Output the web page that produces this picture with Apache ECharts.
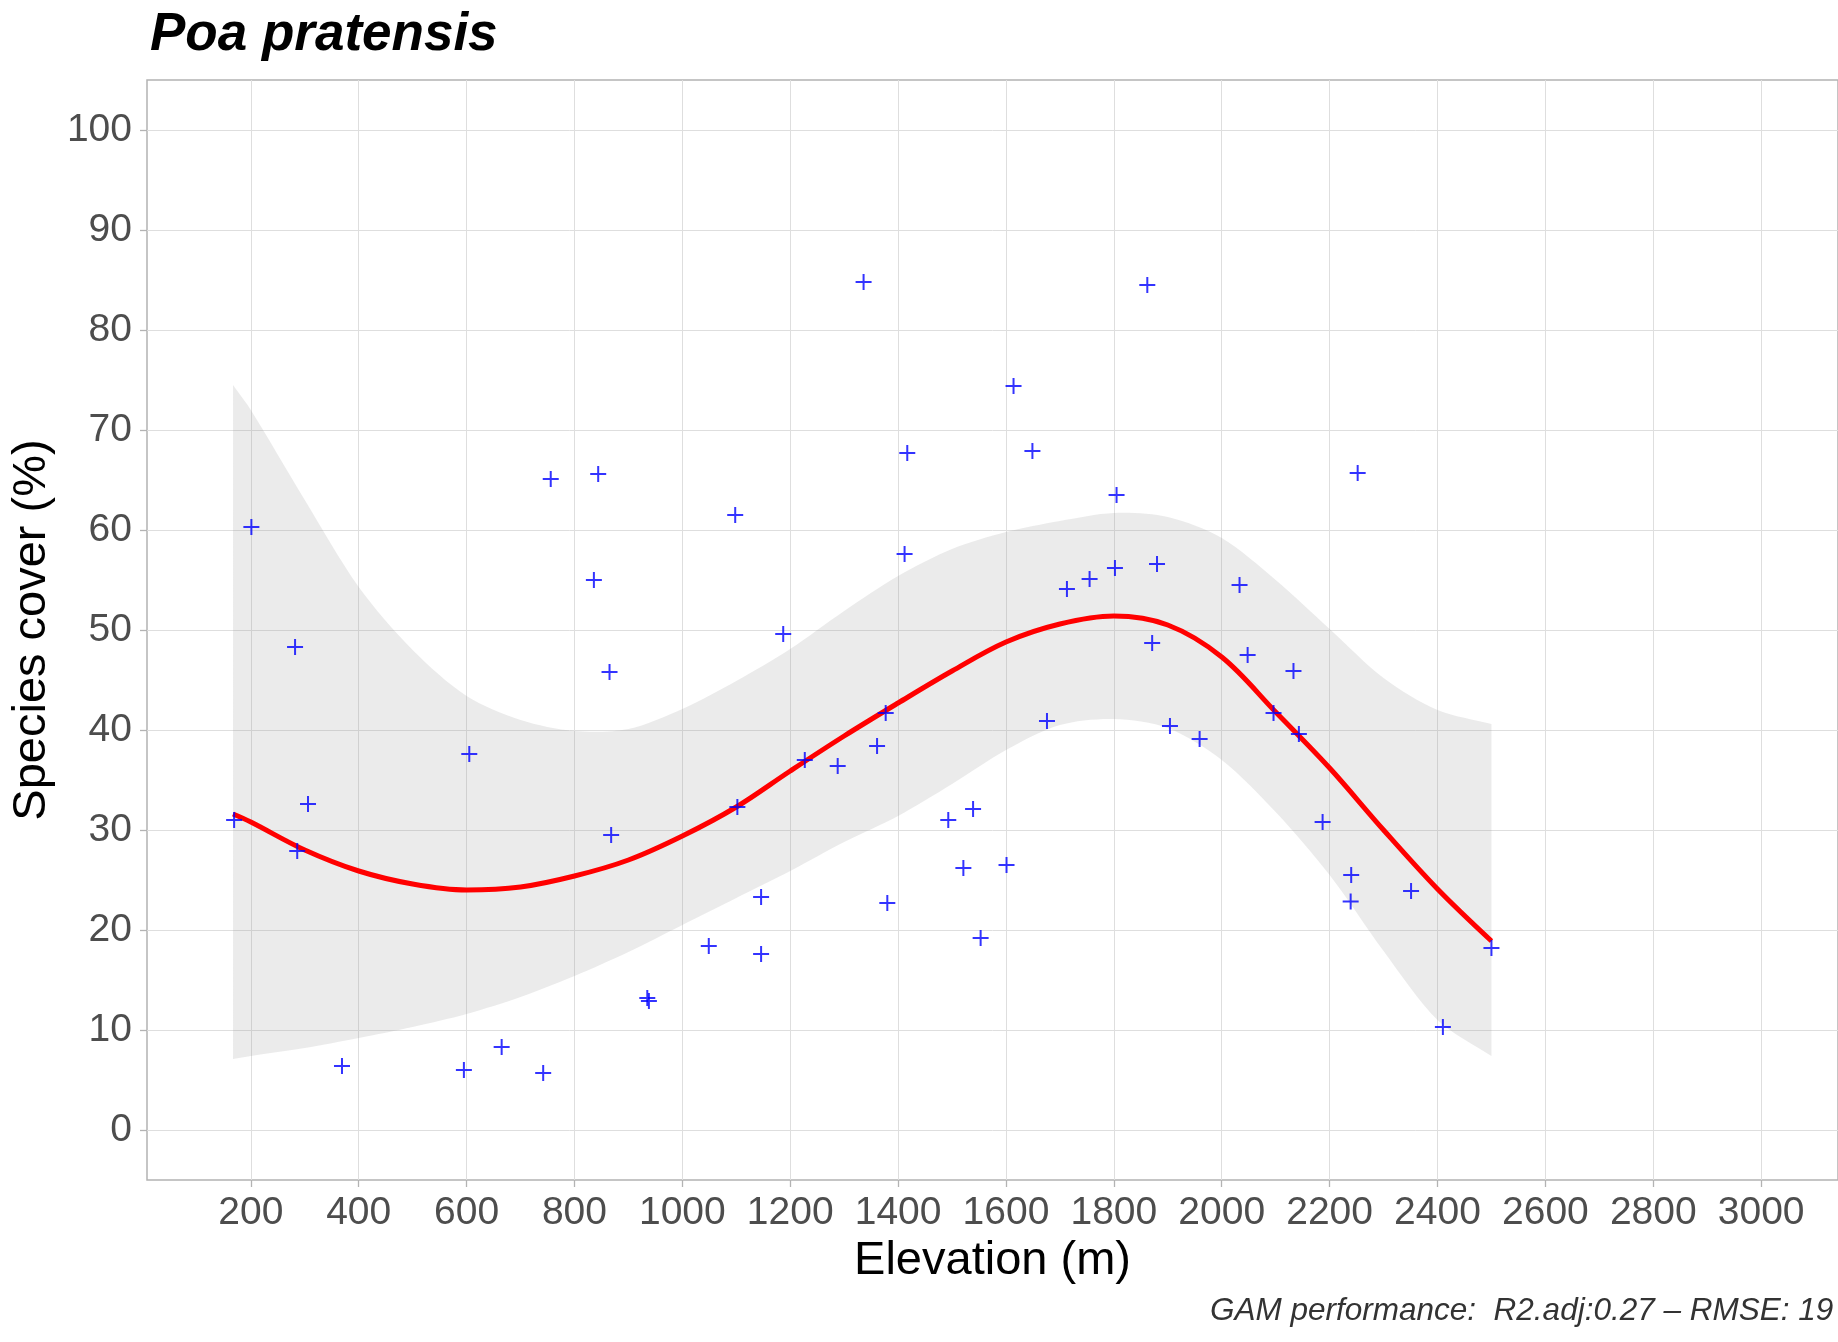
<!DOCTYPE html>
<html>
<head>
<meta charset="utf-8">
<script src="https://cdn.jsdelivr.net/npm/echarts@6/dist/echarts.min.js"></script>
<style>
html,body{margin:0;padding:0;background:#ffffff;}
#chart{width:1838px;height:1342px;}
</style>
</head>
<body>
<div id="chart"></div>
<script>
// ---- data ----
const elevation = [169,201,282,286,306,369,595,605,665,742,756,836,844,865,868,935,938,1049,1098,1102,1146,1146,1187,1227,1288,1336,1361,1377,1380,1412,1417,1493,1521,1539,1553,1601,1614,1649,1676,1713,1755,1802,1805,1862,1871,1880,1904,1959,2033,2048,2096,2133,2143,2187,2240,2239,2252,2351,2410,2500];
const cover = [31.0,60.3,48.3,27.9,32.6,6.4,6.0,37.6,8.3,5.7,65.1,55.0,65.6,45.8,29.5,13.2,12.9,18.4,61.5,32.3,23.3,17.6,49.6,37.0,36.4,84.8,38.4,41.7,22.7,57.6,67.7,31.0,26.2,32.1,19.2,26.5,74.4,67.9,40.9,54.1,55.1,56.2,63.5,84.5,48.7,56.6,40.4,39.1,54.5,47.5,41.7,45.9,39.6,30.8,25.5,22.85,65.7,23.9,10.3,18.2];

const fitX = [167,200,300,400,500,600,700,800,900,1000,1100,1200,1300,1400,1500,1600,1700,1800,1900,2000,2100,2200,2300,2400,2500];
const fitY = [31.6,30.8,28.0,25.9,24.6,24.0,24.3,25.4,27.0,29.4,32.3,35.9,39.4,42.7,45.9,48.8,50.6,51.4,50.5,47.3,41.8,36.2,30.0,24.1,18.9];
const bandUpper = [74.5,72.0,63.0,54.3,48.0,43.4,41.0,39.9,40.1,42.1,44.9,48.1,51.9,55.4,58.1,59.8,60.9,61.7,61.3,59.2,55.0,50.1,45.2,42.0,40.6];
const bandLower = [7.1,7.4,8.2,9.2,10.3,11.6,13.3,15.4,17.8,20.5,23.2,25.9,28.8,31.4,34.6,38.0,40.5,41.1,40.2,37.0,31.8,25.5,17.9,11.0,7.4];

const xTicks = [200,400,600,800,1000,1200,1400,1600,1800,2000,2200,2400,2600,2800,3000];
const yTicks = [0,10,20,30,40,50,60,70,80,90,100];

const titleText = 'Poa pratensis';
const xTitle = 'Elevation (m)';
const yTitle = 'Species cover (%)';
const captionText = 'GAM performance:  R2.adj:0.27 \u2013 RMSE: 19';

// ---- chart ----
const FONT = '"Liberation Sans", Arial, Helvetica, sans-serif';
const chart = echarts.init(document.getElementById('chart'), null, {renderer: 'canvas'});

const points = elevation.map((x, i) => [x, cover[i]]);
const fitData = fitX.map((x, i) => [x, fitY[i]]);
const plusPath = 'path://M7,0H9V7H16V9H9V16H7V9H0V7H7Z';

function renderBand(params, api) {
  const up = [];
  const lo = [];
  for (let i = 0; i < fitX.length; i++) {
    up.push(api.coord([fitX[i], bandUpper[i]]));
    lo.push(api.coord([fitX[i], bandLower[i]]));
  }
  const pts = [];
  // duplicate end points so the vertical ends stay sharp
  pts.push(up[0]);
  for (let i = 0; i < up.length; i++) pts.push(up[i]);
  pts.push(up[up.length - 1]);
  pts.push(lo[lo.length - 1]);
  for (let i = lo.length - 1; i >= 0; i--) pts.push(lo[i]);
  pts.push(lo[0]);
  return {
    type: 'polygon',
    shape: {points: pts, smooth: 0.3},
    style: {fill: 'rgba(153,153,153,0.2)'}
  };
}

const option = {
  animation: false,
  backgroundColor: '#ffffff',
  textStyle: {fontFamily: FONT},
  title: {
    text: titleText,
    left: 150,
    top: 9,
    padding: 0,
    textStyle: {fontSize: 53, fontWeight: 'bold', fontStyle: 'italic', color: '#000000', fontFamily: FONT}
  },
  grid: {
    left: 147,
    top: 80,
    width: 1693,
    height: 1100,
    show: true,
    borderColor: '#b3b3b3',
    borderWidth: 1.5,
    backgroundColor: 'transparent',
    containLabel: false
  },
  xAxis: {
    type: 'value',
    min: 7.5,
    max: 3142.5,
    name: xTitle,
    nameLocation: 'middle',
    nameGap: 55,
    nameTextStyle: {fontSize: 47, color: '#000000', fontFamily: FONT},
    axisLine: {show: false, onZero: false},
    axisTick: {show: true, customValues: xTicks, length: 7, lineStyle: {color: '#b3b3b3', width: 1.3}},
    axisLabel: {customValues: xTicks, fontSize: 39, color: '#4d4d4d', margin: 14, fontFamily: FONT,
                formatter: function (v) { return String(v); }},
    splitLine: {show: true, lineStyle: {color: '#dedede', width: 1}}
  },
  yAxis: {
    type: 'value',
    min: -5,
    max: 105,
    name: yTitle,
    nameLocation: 'middle',
    nameGap: 113,
    nameRotate: 90,
    nameTextStyle: {fontSize: 47, color: '#000000', fontFamily: FONT, align: 'center', verticalAlign: 'middle'},
    axisLine: {show: false, onZero: false},
    axisTick: {show: true, customValues: yTicks, length: 7, lineStyle: {color: '#b3b3b3', width: 1.3}},
    axisLabel: {customValues: yTicks, fontSize: 39, color: '#4d4d4d', margin: 15, fontFamily: FONT,
                padding: [4, 0, 0, 0], formatter: function (v) { return String(v); }},
    splitLine: {show: true, lineStyle: {color: '#dedede', width: 1}}
  },
  graphic: [
    {
      type: 'text',
      left: 1210,
      top: 1295,
      style: {text: captionText, font: 'italic 31.5px ' + FONT, fill: '#333333'}
    }
  ],
  series: [
    {
      type: 'custom',
      name: 'band',
      coordinateSystem: 'cartesian2d',
      renderItem: renderBand,
      data: [[fitX[0], bandUpper[0]]],
      encode: {x: 0, y: 1},
      silent: true,
      z: 1
    },
    {
      type: 'line',
      name: 'GAM',
      data: fitData,
      showSymbol: false,
      smooth: 0.35,
      lineStyle: {color: '#ff0000', width: 5},
      silent: true,
      z: 3
    },
    {
      type: 'scatter',
      name: 'obs',
      data: points,
      symbol: plusPath,
      symbolSize: 16,
      itemStyle: {color: '#0000ff'},
      silent: true,
      z: 4
    }
  ]
};
chart.setOption(option);
</script>
</body>
</html>
